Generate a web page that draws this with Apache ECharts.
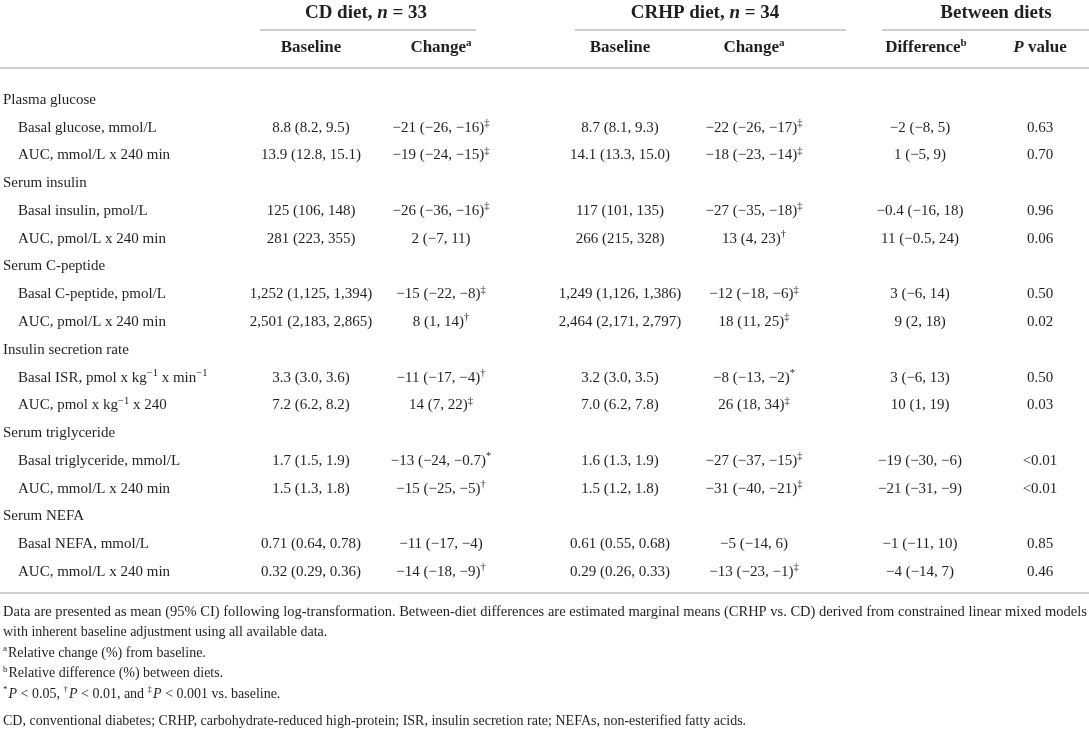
<!DOCTYPE html>
<html>
<head>
<meta charset="utf-8">
<script src="https://cdn.jsdelivr.net/npm/echarts@6/dist/echarts.min.js"></script>
<style>
  html, body { margin: 0; padding: 0; background: #fff; }
  #main { width: 1089px; height: 742px; }
</style>
</head>
<body>
<div id="main"></div>
<script>
// table contents
var groups = ['Plasma glucose', 'Serum insulin', 'Serum C-peptide', 'Insulin secretion rate', 'Serum triglyceride', 'Serum NEFA'];
var measures = [
  'Basal glucose, mmol/L', 'AUC, mmol/L x 240 min',
  'Basal insulin, pmol/L', 'AUC, pmol/L x 240 min',
  'Basal C-peptide, pmol/L', 'AUC, pmol/L x 240 min',
  'Basal ISR, pmol x kg{sup|−1} x min{sup|−1}', 'AUC, pmol x kg{sup|−1} x 240',
  'Basal triglyceride, mmol/L', 'AUC, mmol/L x 240 min',
  'Basal NEFA, mmol/L', 'AUC, mmol/L x 240 min'
];
var cdBaseline = ['8.8 (8.2, 9.5)', '13.9 (12.8, 15.1)', '125 (106, 148)', '281 (223, 355)', '1,252 (1,125, 1,394)', '2,501 (2,183, 2,865)', '3.3 (3.0, 3.6)', '7.2 (6.2, 8.2)', '1.7 (1.5, 1.9)', '1.5 (1.3, 1.8)', '0.71 (0.64, 0.78)', '0.32 (0.29, 0.36)'];
var cdChange = ['−21 (−26, −16)', '−19 (−24, −15)', '−26 (−36, −16)', '2 (−7, 11)', '−15 (−22, −8)', '8 (1, 14)', '−11 (−17, −4)', '14 (7, 22)', '−13 (−24, −0.7)', '−15 (−25, −5)', '−11 (−17, −4)', '−14 (−18, −9)'];
var cdSig = ['‡', '‡', '‡', '', '‡', '†', '†', '‡', '*', '†', '', '†'];
var crhpBaseline = ['8.7 (8.1, 9.3)', '14.1 (13.3, 15.0)', '117 (101, 135)', '266 (215, 328)', '1,249 (1,126, 1,386)', '2,464 (2,171, 2,797)', '3.2 (3.0, 3.5)', '7.0 (6.2, 7.8)', '1.6 (1.3, 1.9)', '1.5 (1.2, 1.8)', '0.61 (0.55, 0.68)', '0.29 (0.26, 0.33)'];
var crhpChange = ['−22 (−26, −17)', '−18 (−23, −14)', '−27 (−35, −18)', '13 (4, 23)', '−12 (−18, −6)', '18 (11, 25)', '−8 (−13, −2)', '26 (18, 34)', '−27 (−37, −15)', '−31 (−40, −21)', '−5 (−14, 6)', '−13 (−23, −1)'];
var crhpSig = ['‡', '‡', '‡', '†', '‡', '‡', '*', '‡', '‡', '‡', '', '‡'];
var difference = ['−2 (−8, 5)', '1 (−5, 9)', '−0.4 (−16, 18)', '11 (−0.5, 24)', '3 (−6, 14)', '9 (2, 18)', '3 (−6, 13)', '10 (1, 19)', '−19 (−30, −6)', '−21 (−31, −9)', '−1 (−11, 10)', '−4 (−14, 7)'];
var pValue = ['0.63', '0.70', '0.96', '0.06', '0.50', '0.02', '0.50', '0.03', '<0.01', '<0.01', '0.85', '0.46'];

var footnotes = [
  'Data are presented as mean (95% CI) following log-transformation. Between-diet differences are estimated marginal means (CRHP vs. CD) derived from constrained linear mixed models',
  'with inherent baseline adjustment using all available data.',
  '{fsup|a}Relative change (%) from baseline.',
  '{fsup|b}Relative difference (%) between diets.',
  '{fsup|*}{fi|P} < 0.05, {fsup|†}{fi|P} < 0.01, and {fsup|‡}{fi|P} < 0.001 vs. baseline.'
];
var abbrev = 'CD, conventional diabetes; CRHP, carbohydrate-reduced high-protein; ISR, insulin secretion rate; NEFAs, non-esterified fatty acids.';

// layout
var FONT = '"Liberation Serif", "DejaVu Serif", serif';
var INK = '#231f20';
var RULE = '#cfcfcf';
var colX = [311, 441, 620, 754, 920, 1040];
var groupX = 3, measureX = 18;

// one row per group heading, two per measure pair
var rows = [];
groups.forEach(function (g, gi) {
  rows.push({ kind: 'group', label: g });
  for (var k = gi * 2; k < gi * 2 + 2; k++) {
    rows.push({ kind: 'measure', idx: k });
  }
});

var bodyRich = {
  sup: { fontSize: 10.5, fontFamily: FONT, fill: INK, padding: [0, 0, 9, 0] }
};

function txt(x, y, text, align, size) {
  return {
    type: 'text',
    x: x, y: y,
    style: {
      text: text,
      fontFamily: FONT,
      fontSize: size || 15,
      fill: INK,
      align: align || 'center',
      verticalAlign: 'middle',
      rich: bodyRich
    }
  };
}

function withSig(v, s) {
  return s ? v + '{sup|' + s + '}' : v;
}

function renderRow(params, api) {
  var i = api.value(0);
  var row = rows[i];
  var y = api.coord([0, i])[1];
  if (row.kind === 'group') {
    return { type: 'group', children: [txt(api.coord([groupX, i])[0], y, row.label, 'left')] };
  }
  var k = row.idx;
  var cells = [measures[k], cdBaseline[k], withSig(cdChange[k], cdSig[k]), crhpBaseline[k],
    withSig(crhpChange[k], crhpSig[k]), difference[k], pValue[k]];
  var kids = [txt(api.coord([measureX, i])[0], y, cells[0], 'left')];
  for (var c = 0; c < colX.length; c++) {
    kids.push(txt(api.coord([colX[c], i])[0], y, cells[c + 1], 'center'));
  }
  return { type: 'group', children: kids };
}

var headRich = {
  i: { fontStyle: 'italic', fontWeight: 'bold', fontFamily: FONT, fontSize: 19, fill: INK },
  ib: { fontStyle: 'italic', fontWeight: 'bold', fontFamily: FONT, fontSize: 17, fill: INK },
  sup: { fontSize: 11, fontWeight: 'bold', fontFamily: FONT, fill: INK, padding: [0, 0, 10, 0] }
};

function head(x, y, text, size) {
  return {
    type: 'text', x: x, y: y,
    style: {
      text: text, fontFamily: FONT, fontSize: size, fontWeight: 'bold', fill: INK,
      align: 'center', verticalAlign: 'middle', rich: headRich
    }
  };
}

function rule(x1, x2, y) {
  return { type: 'line', shape: { x1: x1, y1: y, x2: x2, y2: y }, style: { stroke: RULE, lineWidth: 2 } };
}

var footRich = {
  fsup: { fontSize: 9, fontFamily: FONT, fill: INK, padding: [0, 1, 8, 0] },
  fi: { fontStyle: 'italic', fontSize: 14, fontFamily: FONT, fill: INK }
};

var graphics = [
  head(366, 13, 'CD diet, {i|n} = 33', 19),
  head(705, 13, 'CRHP diet, {i|n} = 34', 19),
  head(996, 13, 'Between diets', 19),
  rule(260, 476, 30), rule(575, 846, 30), rule(882, 1089, 30),
  head(colX[0], 48, 'Baseline', 17),
  head(colX[1], 48, 'Change{sup|a}', 17),
  head(colX[2], 48, 'Baseline', 17),
  head(colX[3], 48, 'Change{sup|a}', 17),
  head(926, 48, 'Difference{sup|b}', 17),
  head(colX[5], 48, '{ib|P} value', 17),
  rule(0, 1089, 68),
  rule(0, 1089, 593)
];
footnotes.forEach(function (f, n) {
  graphics.push({
    type: 'text', x: 3, y: 612 + n * 20.5,
    // first line is justified to the full width in the original
    style: { text: f, fontFamily: FONT, fontSize: n === 0 ? 14.5 : 14, fill: INK, verticalAlign: 'middle', rich: footRich }
  });
});
graphics.push({
  type: 'text', x: 3, y: 721,
  style: { text: abbrev, fontFamily: FONT, fontSize: 14, fill: INK, verticalAlign: 'middle' }
});

var chart = echarts.init(document.getElementById('main'));
chart.setOption({
  animation: false,
  grid: { left: 0, right: 0, top: 86.1, bottom: 156.2 },
  xAxis: { type: 'value', min: 0, max: 1089, show: false },
  yAxis: { type: 'category', inverse: true, show: false, data: rows.map(function (r, i) { return i; }) },
  series: [{
    type: 'custom',
    renderItem: renderRow,
    data: rows.map(function (r, i) { return [i]; }),
    silent: true
  }],
  graphic: graphics
});
</script>
</body>
</html>
